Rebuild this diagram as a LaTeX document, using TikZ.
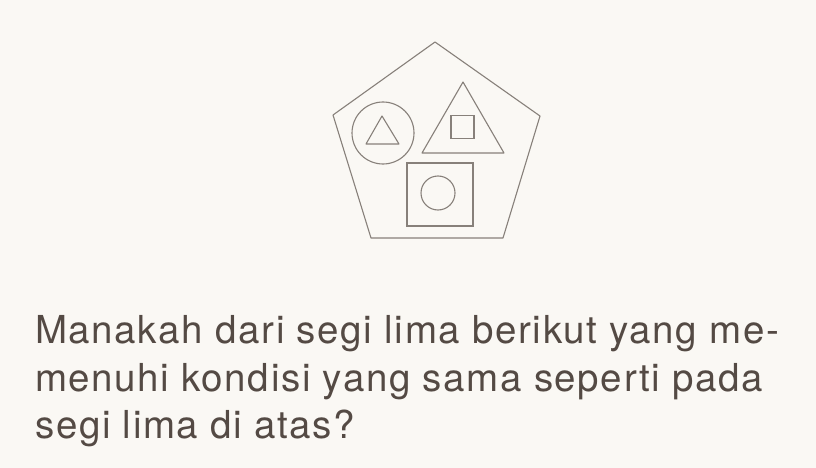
\documentclass[tikz,border=0pt]{standalone}
\usepackage{fontspec}
\setmainfont[LetterSpace=4.2]{TeX Gyre Heros}
\usepackage{tikz}

\definecolor{paper}{RGB}{250,248,244}
\definecolor{ink}{RGB}{84,74,68}
\definecolor{pencil}{RGB}{135,128,122}

\begin{document}
\begin{tikzpicture}[x=1pt,y=-1pt]
	\fill[paper] (0,0) rectangle (816,468);
	\useasboundingbox (0,0) rectangle (816,468);

	\draw[pencil,line width=1.1pt,line join=round] (435,42) -- (540,116) -- (503,238) -- (371,238) -- (333,115) -- cycle;
	\node[circle, draw=pencil, line width=1.1pt, minimum size=62pt, inner sep=0pt] (c1) at (383,133) {};
	\draw[pencil,line width=1.1pt,line join=round] (382,116) -- (399,144) -- (366,144) -- cycle;
	\draw[pencil,line width=1.1pt,line join=round] (463,82) -- (504,153) -- (422,153) -- cycle;
	\node[rectangle, draw=pencil, line width=1.1pt, minimum size=23pt, inner sep=0pt] (s1) at (462.5,127) {};
	\node[rectangle, draw=pencil, line width=1.1pt, minimum width=66pt, minimum height=63pt, inner sep=0pt] (s2) at (440,194.5) {};
	\node[circle, draw=pencil, line width=1.1pt, minimum size=34pt, inner sep=0pt] (c2) at (438,193) {};

	\node[anchor=base west, ink, font=\fontsize{38.5}{47}\selectfont, inner sep=0pt] (l1) at (35,343) {Manakah dari segi lima berikut yang me-};
	\node[anchor=base west, ink, font=\fontsize{38.5}{47}\selectfont, inner sep=0pt] (l2) at (35,391) {menuhi kondisi yang sama seperti pada};
	\node[anchor=base west, ink, font=\fontsize{38.5}{47}\selectfont, inner sep=0pt] (l3) at (35,438) {segi lima di atas?};
\end{tikzpicture}
\end{document}
